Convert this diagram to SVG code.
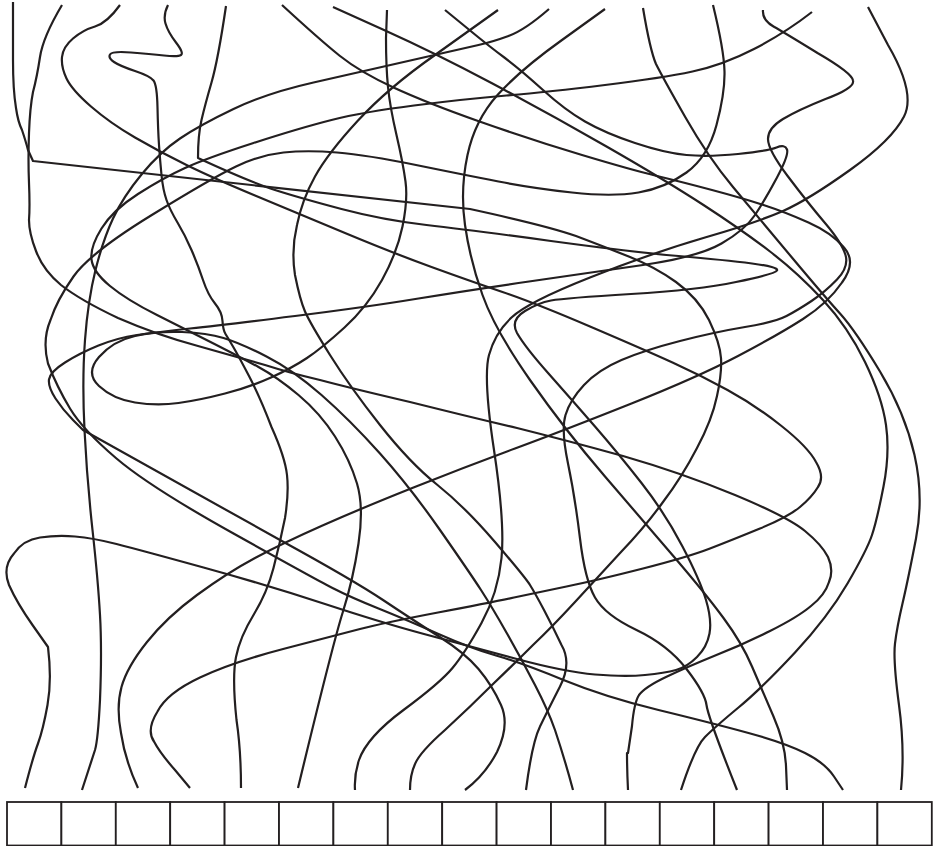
<svg xmlns="http://www.w3.org/2000/svg" width="935" height="846" viewBox="0 0 935 846">
<style>
.w{fill:none;stroke:#231f20;stroke-width:2.2;stroke-linecap:butt;stroke-linejoin:round}
.b{fill:#fff;stroke:#231f20;stroke-width:1.8}
</style>
<rect width="935" height="846" fill="#fff"/>
<g id="connectors">
<path class="w" d="M13 2L13 60Q13 90 16 108Q18 122 22 130Q26 142 28 150L33 161L470 209Q548 226 576 236Q605 247 630 257Q655 267 676 282Q698 298 709 320Q720 343 721 358Q722 373 717 396Q712 420 697 448Q682 477 663 502Q645 527 621 552Q598 577 575 602Q552 627 533 645Q515 663 492 685Q470 707 445 730Q420 752 415 764Q410 775 410 790"/>
<path class="w" d="M62 5Q43 37 40 57Q37 77 33 92Q30 107 29 133Q28 160 29 183Q30 207 29 220Q29 233 36 251Q43 270 61 285Q80 300 118 318Q157 335 198 346Q240 358 265 365Q290 373 320 380Q350 388 410 402Q470 417 517 428Q565 440 623 456Q682 473 735 495Q788 517 805 531Q822 545 828 557Q834 570 829 582Q825 595 811 606Q798 617 770 631Q742 645 714 656Q687 667 666 677Q645 687 639 695Q634 703 632 726L628 753L627 753Q627 770 628 790"/>
<path class="w" d="M120 5Q107 23 95 26.500Q83 30 73 38.500Q63 47 62 57Q61 67 66.500 78.500Q72 90 91 106.500Q110 123 135 137.500Q160 152 186.500 165Q213 178 255 195.500Q297 213 345 233Q393 253 431.500 267Q470 281 502.500 292Q535 303 590 326.500Q645 350 672.500 362.500Q700 375 727.500 390Q755 405 781.500 426Q808 447 816 462Q825 477 818 487Q812 497 800 507Q788 517 760 528.500Q732 540 710 548.500Q688 557 643 568.500Q598 580 566.500 586.500Q535 593 514 597.500Q493 602 438 612.500Q383 623 360 629Q337 635 285 648.500Q233 662 200 677.500Q167 693 157.500 711.500Q146 730 154 741.500Q160 753 175 770L190 788"/>
<path class="w" d="M168 5Q163 15 165.500 23.500Q168 32 176 42.500Q184 53 181 55Q178 57 164 55.500Q150 54 131 52.500Q112 51 110 54.500Q108 58 114 62Q120 66 135 71Q150 76 153.500 80.500Q157 85 157.500 107.500Q158 130 159 145Q160 160 161.500 175Q163 190 166.500 200Q170 210 177.500 222.500Q185 235 191.500 250Q198 265 203 280Q208 295 215 303.500Q222 312 222.500 321Q223 330 225.500 334Q228 338 233 346.500Q238 355 249 376Q260 397 271.500 427Q285 457 287 475Q289 493 285 518Q280 543 273.500 568Q267 593 253.500 615Q240 637 236 657Q232 677 236.500 720Q241 750 241 788"/>
<path class="w" d="M226 6Q218 60 211.500 82.500Q205 105 201.500 120Q198 135 198 158Q250 182 275 190Q300 198 341.500 209Q383 220 426.500 225Q470 230 551 241Q632 252 678.500 256Q725 260 752 263.500Q779 267 777 270.500Q775 274 736 282Q698 290 631 294Q565 298 551 300.500Q538 303 525 311Q510 320 517 333Q525 347 548.500 373.500Q572 400 595 426.500Q618 453 641.500 483Q665 513 682.500 546.500Q700 580 706 600Q712 620 709.500 633.500Q707 647 697 657Q687 667 676 670Q665 673 645 675Q625 677 595 674.500Q565 672 515 658.500Q465 645 424 634Q383 623 325 604Q267 585 203.500 567.500Q140 550 116.500 544Q93 538 75 536.500Q57 535 40 537.500Q23 540 14 553.500Q2 567 9 585Q17 603 32.500 625L48 647Q52 680 47.500 705Q43 730 38 743.500Q33 757 25 788"/>
<path class="w" d="M282 5Q320 40 340 56Q360 72 393.500 87.500Q427 103 479.500 121.500Q532 140 582 155Q632 170 657 176Q682 182 712 190Q742 198 763.500 205Q785 212 808.500 222.500Q832 233 844 247.500Q857 262 842 282.500Q828 303 803 319Q778 335 738 356Q698 377 631.500 403.500Q565 430 515 448.500Q465 467 413.500 487.500Q362 508 322.500 525.500Q283 543 255 558Q227 573 197 595Q167 617 147 642Q127 667 121.500 687Q116 707 121 733Q125 760 138 788"/>
<path class="w" d="M333 7L384 30Q435 53 491.500 83Q548 113 606.500 146.500Q665 180 703.500 205Q742 230 770 251.500Q798 273 823 300Q848 327 865 362Q882 397 886 425Q890 453 883.500 486.500Q877 520 872 535Q867 550 847.500 583.500Q828 617 795 652.500Q762 688 738.500 707.500Q715 727 705 737Q695 747 681 790"/>
<path class="w" d="M387 10L386 38Q386 67 388 87Q390 107 396.500 135Q403 163 405.500 181.500Q408 200 402.500 226.500Q397 253 382 280Q367 307 344.500 327.500Q322 348 307 358Q292 368 271 377.500Q250 387 225 393.500Q200 400 178.500 403Q157 406 135 402.500Q113 399 99 386Q85 373 99 357Q113 341 135 336Q157 331 182 332Q207 333 223.500 338Q240 343 266.500 356.500Q293 370 321.500 395Q350 420 380 453.500Q410 487 440 530Q470 573 481 590Q492 607 507 633.500Q522 660 535 685Q548 710 555 730Q565 760 573 790"/>
<path class="w" d="M445 10L467 28Q490 47 505 58Q521 70 543 90Q565 110 585 121.500Q605 133 635 143Q665 153 686.500 155Q708 157 738 154Q768 151 776.500 147.500Q785 144 787 149.500Q789 155 777 177.500Q765 200 755 215Q745 230 721.500 243.500Q698 257 643 265Q588 273 529 281.500Q470 290 418.500 298.500Q367 307 295 316Q223 325 190 328.500Q157 332 137 335Q117 338 98.500 345.500Q80 353 65 362.500Q50 372 49 379.500Q48 387 55.500 398.500Q63 410 73 420L83 430L280 540Q353 580 383 600Q413 620 439 636.500Q465 653 478.500 669Q492 685 501 705Q510 725 497 752Q485 775 465 790"/>
<path class="w" d="M498 10L435 55Q388 88 358 120.500Q328 153 315 176.500Q302 200 297 225Q291 250 295 275Q300 300 305 311.500Q310 323 330 355Q350 387 380 425Q410 463 437.500 485Q465 507 495 542Q525 577 530 585Q535 593 544 610Q553 627 561.500 645Q572 663 560 686.500Q548 710 540 726.500Q532 743 526 790"/>
<path class="w" d="M549 9Q525 30 508.500 36Q492 42 478.500 45Q465 48 412.500 60Q360 72 313.500 82.500Q267 93 233.500 109Q200 125 180 138.500Q160 152 141.500 174.500Q123 197 113 218.500Q103 240 95.500 270Q88 300 85 340Q82 380 84.500 430Q87 480 92.500 530Q98 580 100 615Q102 650 100 700Q98 740 95 750L82 790"/>
<path class="w" d="M812 12Q785 33 754 49Q723 65 692.500 71.500Q662 78 605 85Q548 92 506.500 95.500Q465 99 414 105.500Q363 112 331.500 120Q300 128 253.500 143Q207 158 185 168Q163 178 138 194Q113 210 101.500 228.500Q90 247 91.500 259.500Q93 272 110 286Q127 300 157 315Q187 330 213.500 343.500Q240 357 258.500 367Q277 377 298.500 395Q320 413 335 436.500Q350 460 357 483.500Q364 507 358.500 543.500Q353 580 343 611.500Q333 643 298 788"/>
<path class="w" d="M713 5Q724 50 724.500 71.500Q725 93 716.500 125Q708 157 686.500 172.500Q665 188 638.500 192.500Q612 197 572 192.500Q532 188 498.500 181.500Q465 175 416 165Q367 155 337 152.500Q307 150 283.500 152.500Q260 155 236 166.500Q212 178 151 215.500Q90 253 73.500 276.500Q57 300 50.500 320Q42 340 48 363.500Q57 387 70 408.500Q83 430 116.500 458.500Q150 487 233.500 533.500Q317 580 333.500 588.500Q350 597 378.500 608.500Q407 620 438.500 634Q470 648 496 655.500Q522 663 563.500 680Q605 697 658.500 710Q712 723 748.500 733Q785 743 805 753Q825 763 834 776.500L843 790"/>
<path class="w" d="M868 7L888 45Q916 93 904 116.500Q892 140 850 170Q808 200 783 211Q758 222 705 237.500Q652 253 590 277.500Q528 302 511.500 317.500Q495 333 489 355Q483 377 494 450Q505 523 501.500 558Q498 593 481.500 623Q465 653 452.500 668Q440 683 403.500 710Q367 737 359 760Q354 775 355 790"/>
<path class="w" d="M605 9L562 40Q520 70 497.500 95Q475 120 467.500 155Q460 190 465 225Q470 260 482.500 295Q495 330 530 380Q565 430 605 476.500Q645 523 675 558Q705 593 723.500 618Q742 643 752 666.500Q762 690 773.500 716.500Q785 743 786 766L787 790"/>
<path class="w" d="M643 8Q650 50 656 64Q663 78 685.500 117.500Q708 157 733 187Q758 217 791.500 257Q825 297 840 313.500Q855 330 880 371.500Q905 413 914.500 455Q924 497 916 538.500Q908 580 902.500 603.500Q897 627 895 643.500Q893 660 899 705Q905 750 901 790"/>
<path class="w" d="M763 10Q762 20 773.500 26.500Q785 33 817.500 53Q852 73 853 80.500Q855 88 825.500 99Q798 110 783 119Q768 128 768 139Q768 150 788 176.500Q808 203 825 223Q842 243 845.500 255Q849 267 837 279.500Q825 292 811.500 301Q798 310 786.500 316Q775 322 745 327Q715 332 680 341Q645 350 621.500 360Q598 370 584 385Q570 400 565.500 415Q561 430 568 463.500Q575 497 580 538.500Q585 580 595 597.500Q605 615 636.500 630Q668 645 686.500 669Q705 693 706.500 705Q708 717 737 790"/>
</g>
<g id="boxes">
<rect class="b" x="7" y="802" width="54.4" height="43.500"/>
<rect class="b" x="61.4" y="802" width="54.4" height="43.500"/>
<rect class="b" x="115.8" y="802" width="54.4" height="43.500"/>
<rect class="b" x="170.2" y="802" width="54.4" height="43.500"/>
<rect class="b" x="224.6" y="802" width="54.4" height="43.500"/>
<rect class="b" x="279" y="802" width="54.4" height="43.500"/>
<rect class="b" x="333.4" y="802" width="54.4" height="43.500"/>
<rect class="b" x="387.8" y="802" width="54.4" height="43.500"/>
<rect class="b" x="442.2" y="802" width="54.4" height="43.500"/>
<rect class="b" x="496.6" y="802" width="54.4" height="43.500"/>
<rect class="b" x="551" y="802" width="54.4" height="43.500"/>
<rect class="b" x="605.4" y="802" width="54.4" height="43.500"/>
<rect class="b" x="659.8" y="802" width="54.4" height="43.500"/>
<rect class="b" x="714.2" y="802" width="54.4" height="43.500"/>
<rect class="b" x="768.6" y="802" width="54.4" height="43.500"/>
<rect class="b" x="823" y="802" width="54.4" height="43.500"/>
<rect class="b" x="877.4" y="802" width="54.4" height="43.500"/>
</g>
</svg>
